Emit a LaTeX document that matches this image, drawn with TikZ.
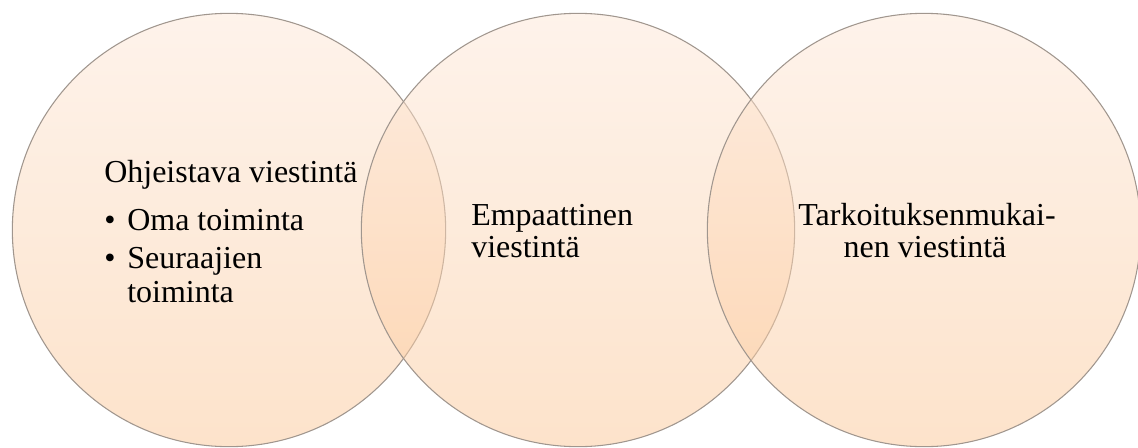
\documentclass[tikz,border=0pt]{standalone}
\usepackage{fontspec}
\setmainfont{Liberation Serif}
\definecolor{ringedge}{RGB}{160,150,142}
\definecolor{ringtop}{RGB}{253,231,215}
\definecolor{ringbot}{RGB}{251,199,151}
\tikzset{
  ring/.style={circle, draw=ringedge, line width=0.8pt, top color=ringtop,
    bottom color=ringbot, fill opacity=0.5, minimum size=325pt, inner sep=0pt},
  txt/.style={font=\fontsize{24}{28}\selectfont, inner sep=0pt}
}
\begin{document}
\begin{tikzpicture}[x=0.75pt,y=-0.75pt]
\useasboundingbox (0,0) rectangle (1138,447);
% the three circles
\node[ring] (left) at (229,230) {};
\node[ring] (mid) at (578,230) {};
\node[ring] (right) at (924,230) {};
% left circle text
\node[txt, anchor=base west] (ohj) at (104,182) {Ohjeistava viestintä};
\node[txt, anchor=base west] (b1) at (104,230) {\textbullet};
\node[txt, anchor=base west] (oma) at (127,230) {Oma toiminta};
\node[txt, anchor=base west] (b2) at (104,268) {\textbullet};
\node[txt, anchor=base west] (seu) at (127,268) {Seuraajien};
\node[txt, anchor=base west] (toi) at (127,302) {toiminta};
% middle circle text
\node[txt, anchor=base west] (emp) at (471,225) {Empaattinen};
\node[txt, anchor=base west] (vie) at (471,257) {viestintä};
% right circle text
\node[txt, anchor=base] (tar) at (927,225) {Tarkoituksenmukai-};
\node[txt, anchor=base] (nen) at (925,257) {nen viestintä};
\end{tikzpicture}
\end{document}
